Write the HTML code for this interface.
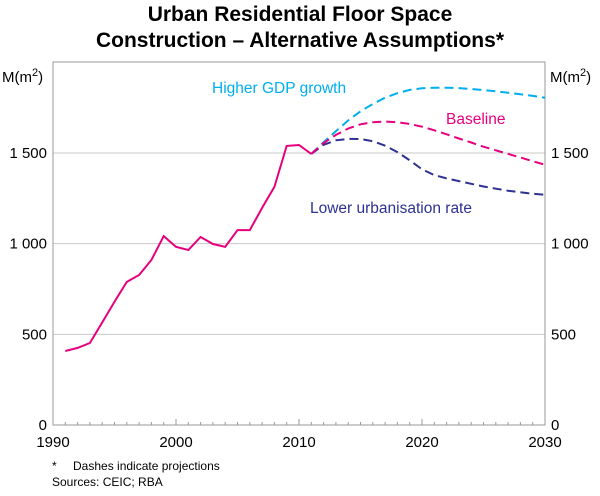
<!DOCTYPE html>
<html><head><meta charset="utf-8"><style>
body{margin:0;background:#fff;font-family:"Liberation Sans",sans-serif}
</style></head><body>
<svg width="600" height="491" viewBox="0 0 600 491" xmlns="http://www.w3.org/2000/svg">
<text x="300" y="21" text-anchor="middle" font-size="21" font-weight="bold" fill="#000">Urban Residential Floor Space</text>
<text x="300" y="47" text-anchor="middle" font-size="21" font-weight="bold" fill="#000">Construction – Alternative Assumptions*</text>
<g id="grid"></g>
<rect x="53" y="62" width="492" height="363" fill="none" stroke="#999" stroke-width="1"/>
<text x="2" y="82" font-size="15">M(m<tspan dy="-6" font-size="11">2</tspan><tspan dy="6">)</tspan></text>
<text x="550" y="82" font-size="15">M(m<tspan dy="-6" font-size="11">2</tspan><tspan dy="6">)</tspan></text>
<g id="series"></g>
<text x="212" y="93" font-size="15.5" fill="#00aeef">Higher GDP growth</text>
<text x="446" y="124" font-size="15.5" fill="#e6007e">Baseline</text>
<text x="310" y="213" font-size="15.5" fill="#2e3192">Lower urbanisation rate</text>
<text x="52" y="470" font-size="12">*<tspan x="73">Dashes indicate projections</tspan></text>
<text x="52" y="486" font-size="12">Sources: CEIC; RBA</text>
</svg>
<script>
const histYears=[1991,1992,1993,1994,1995,1996,1997,1998,1999,2000,2001,2002,2003,2004,2005,2006,2007,2008,2009,2010,2011];
const histValues=[408,425,452,565,680,789,827,910,1042,982,965,1037,998,982,1075,1075,1197,1313,1539,1544,1495];
const projYears=[2011,2012,2013,2014,2015,2016,2017,2018,2019,2020,2021,2022,2023,2024,2025,2026,2027,2028,2029,2030];
const higherGdp=[1495,1560,1620,1680,1730,1770,1805,1830,1848,1857,1860,1860,1858,1853,1847,1840,1832,1824,1815,1805];
const baseline=[1495,1555,1600,1635,1658,1670,1673,1670,1660,1645,1625,1603,1580,1558,1535,1515,1495,1475,1455,1435];
const lowerUrban=[1495,1545,1570,1578,1577,1565,1540,1505,1460,1410,1378,1360,1345,1330,1315,1303,1292,1283,1275,1270];
const yTicks=[0,500,1000,1500];
const yTickLabels=["0","500","1 000","1 500"];
const xTicks=[1990,2000,2010,2020,2030];
const NS="http://www.w3.org/2000/svg";
const xS=y=>53+(y-1990)*(492/40);
const yS=v=>425-v*(272/1500);
const grid=document.getElementById('grid'),ser=document.getElementById('series');
function mk(tag,attrs,parent){const e=document.createElementNS(NS,tag);for(const k in attrs)e.setAttribute(k,attrs[k]);parent.appendChild(e);return e;}
yTicks.forEach((t,i)=>{
  const y=yS(t);
  if(t>0){const g=mk('line',{x1:53,x2:545,y1:y,y2:y,stroke:'#c8c8c8','stroke-width':1},grid);
  
  }
  const l=mk('text',{x:47,y:y+5,'text-anchor':'end','font-size':15},grid);l.textContent=yTickLabels[i];
  
  
  const r=mk('text',{x:551,y:y+5,'font-size':15},grid);r.textContent=yTickLabels[i];
  
  
});
xTicks.forEach(t=>{
  const x=xS(t);
  mk('line',{x1:x,x2:x,y1:425,y2:419,stroke:'#999'},grid);
  const l=mk('text',{x:x,y:447,'text-anchor':'middle','font-size':15},grid);l.textContent=t;
  
  
});
for(let yr=1991;yr<2030;yr++){const x=xS(yr);mk('line',{x1:x,x2:x,y1:425,y2:422,stroke:'#999'},grid);}
function line(xs,vs,color,dash,name){
  const d=xs.map((x,i)=>(i?'L':'M')+xS(x).toFixed(1)+','+yS(vs[i]).toFixed(1)).join('');
  const p=mk('path',{d:d,fill:'none',stroke:color,'stroke-width':2,'stroke-dasharray':dash||'none'},ser);
  
  
}
line(projYears,higherGdp,'#00aeef','9,5','series-higher-gdp');
line(projYears,lowerUrban,'#2e3192','9,5','series-lower-urbanisation');
line(projYears,baseline,'#e6007e','9,5','series-baseline');
line(histYears,histValues,'#e6007e',null,'series-historical');
</script>
</body></html>
